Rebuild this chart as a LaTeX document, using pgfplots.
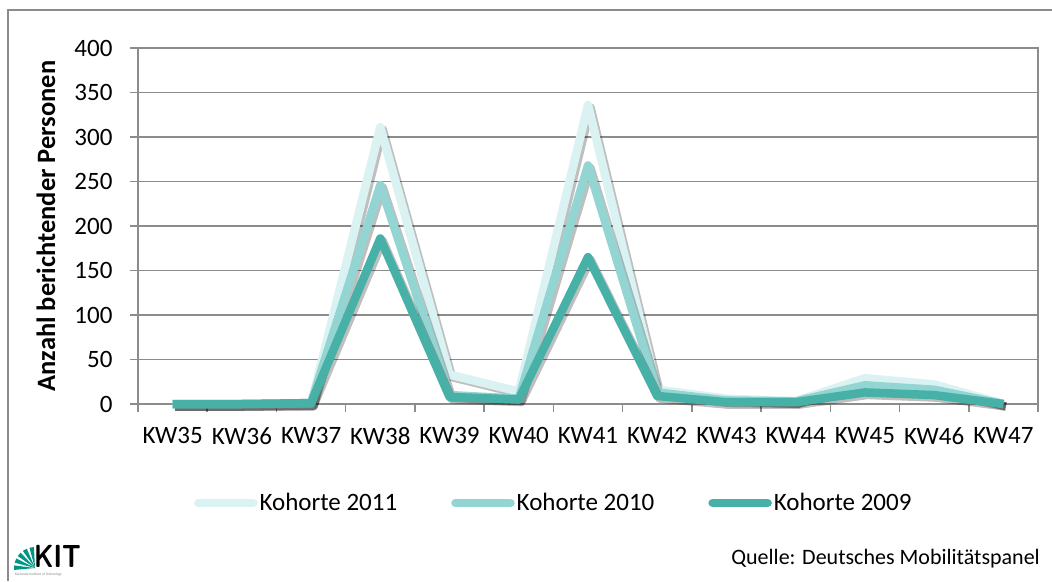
\documentclass[border=0pt]{standalone}
\usepackage{fontspec}
\setmainfont{Carlito}
\usepackage{pgfplots}
\usepackage{pgfplotstable}
\pgfplotsset{compat=1.18}
\definecolor{c11}{HTML}{DAF3F2}
\definecolor{c10}{HTML}{93D5D2}
\definecolor{c09}{HTML}{48B1A7}
\definecolor{gridgray}{HTML}{8C8C8C}
\definecolor{kitgreen}{HTML}{009682}
\pgfplotstableread{
x y
0 0
1 0
2 0
3 311
4 33
5 14
6 336
7 16
8 6
9 3
10 29
11 22
12 0
}\kohA
\pgfplotstableread{
x y
0 0
1 0
2 1
3 246
4 10
5 6
6 268
7 13
8 4
9 3
10 21
11 16
12 0
}\kohB
\pgfplotstableread{
x y
0 0
1 0
2 1
3 186
4 8
5 5
6 165
7 9
8 2
9 2
10 13
11 10
12 0
}\kohC
\begin{document}
\begin{tikzpicture}[x=1pt,y=1pt]
\useasboundingbox (0,0) rectangle (1052,581);
\fill[white] (0,0) rectangle (1052,581);
% outer frame
\draw[gridgray, line width=2pt] (8,0) -- (8,571) -- (1052,571);
\begin{axis}[
  at={(138pt,177pt)}, anchor=south west,
  scale only axis, width=900pt, height=356pt,
  xmin=-0.5, xmax=12.5, ymin=0, ymax=400,
  xtick={0,...,12},
  xticklabels={KW35,KW36,KW37,KW38,KW39,KW40,KW41,KW42,KW43,KW44,KW45,KW46,KW47},
  minor xtick={-0.5,0.5,...,12.5},
  ytick={0,50,...,400},
  tick align=outside,
  major x tick style={draw=none},
  minor tick length=8pt, major tick length=8pt,
  every tick/.style={gridgray, line width=1.5pt},
  ymajorgrids, grid style={gridgray, line width=1.5pt},
  axis line style={gridgray, line width=1.5pt},
  xtick pos=bottom, ytick pos=left,
  /pgf/number format/assume math mode=true,
  tick label style={font=\fontsize{25}{27}\selectfont, black},
  xticklabel style={yshift=-12pt},
  yticklabel style={xshift=-14pt},
  legend style={at={(0.462,-0.278)}, anchor=center, draw=none, fill=none,
    legend columns=3, font=\fontsize{25}{27}\selectfont,
    /tikz/every even column/.append style={column sep=52pt},
    inner sep=0pt},
  legend cell align=left,
  legend image code/.code={\draw[#1, line cap=round] (0pt,0pt) -- (55pt,0pt);},
  clip=false,
  every axis plot/.append style={line width=8.5pt, line join=round},
  shadow/.style={draw=black, draw opacity=0.25, line width=8.5pt, forget plot,
    transform canvas={shift={(2.5pt,-2.5pt)}}},
]
\addplot[shadow] table {\kohA};
\addplot[c11] table {\kohA};
\addlegendentry{Kohorte 2011}
\addplot[shadow] table {\kohB};
\addplot[c10] table {\kohB};
\addlegendentry{Kohorte 2010}
\addplot[shadow] table {\kohC};
\addplot[c09] table {\kohC};
\addlegendentry{Kohorte 2009}
\end{axis}
% y label
\node[rotate=90, font=\fontsize{26.5}{28}\selectfont\bfseries] at (46,355) {Anzahl berichtender Personen};
% source
\node[anchor=east, font=\fontsize{22}{24}\selectfont, inner sep=0pt] at (1040,22) {Quelle: Deutsches Mobilitätspanel};
% KIT logo
\begin{scope}[shift={(15,13)}]
  \foreach \a in {0,20,40,60,80} {
    \fill[kitgreen] (20,0) -- ++(180-\a-7:21) -- ++(180-\a+90:4.5) -- cycle;
  }
  \node[anchor=base west, inner sep=0pt, xscale=0.8, font=\fontsize{32}{32}\selectfont\bfseries\sffamily] at (19,0) {KIT};
  \node[anchor=north west, inner sep=0pt, font=\fontsize{3.5}{3.5}\selectfont, gray] at (0,-5) {Karlsruhe Institute of Technology};
\end{scope}
\end{tikzpicture}
\end{document}
